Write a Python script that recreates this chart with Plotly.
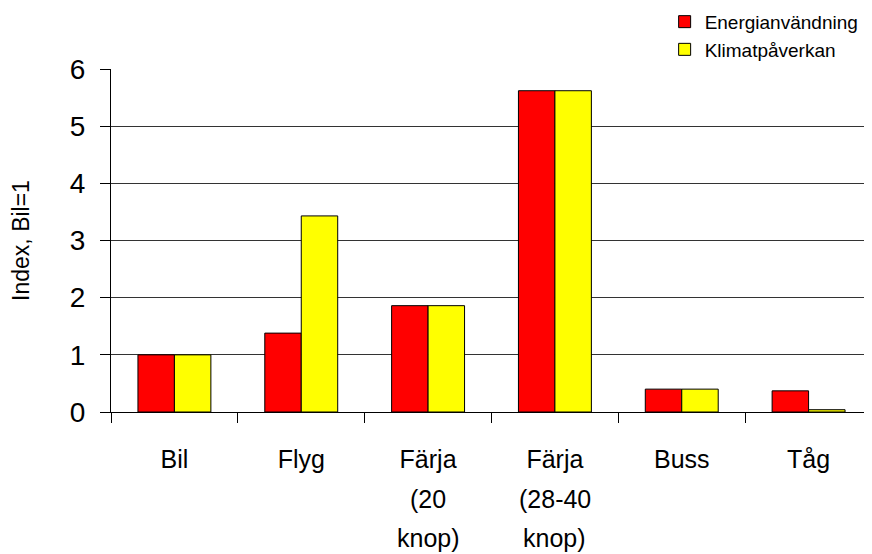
import plotly.graph_objects as go

categories = ["Bil", "Flyg", "Färja (20 knop)", "Färja (28-40 knop)", "Buss", "Tåg"]
label_lines = [["Bil"], ["Flyg"], ["Färja", "(20", "knop)"], ["Färja", "(28-40", "knop)"], ["Buss"], ["Tåg"]]
energi = [1.0, 1.38, 1.86, 5.62, 0.40, 0.37]
klimat = [1.0, 3.43, 1.86, 5.62, 0.40, 0.04]
yticks = [0, 1, 2, 3, 4, 5, 6]

FONT = "Liberation Sans, Arial, sans-serif"

fig = go.Figure()
fig.add_trace(go.Bar(x=categories, y=energi, name="Energianvändning", legendgroup="a",
                     marker=dict(color="#FF0000", line=dict(color="#000000", width=1))))
fig.add_trace(go.Bar(x=categories, y=klimat, name="Klimatpåverkan", legendgroup="b",
                     marker=dict(color="#FFFF00", line=dict(color="#000000", width=1))))

annotations = []
for cat, lines in zip(categories, label_lines):
    for i, line in enumerate(lines[1:], start=1):
        annotations.append(dict(x=cat, xref="x", y=0, yref="paper", text=line, showarrow=False,
                                yanchor="middle", yshift=-48 - 39 * i,
                                font=dict(family=FONT, size=25, color="black")))

fig.update_layout(
    width=864, height=546,
    margin=dict(l=103, r=0, t=61, b=142, autoexpand=False),
    paper_bgcolor="white", plot_bgcolor="white",
    barmode="group", bargap=0.425, bargroupgap=0,
    font=dict(family=FONT, color="black"),
    legend=dict(x=0.7275, y=1.193, xanchor="left", yanchor="top",
                font=dict(family=FONT, size=19), tracegroupgap=0,
                bgcolor="rgba(0,0,0,0)"),
    annotations=annotations,
)
fig.update_xaxes(
    type="category", tickmode="array", tickvals=categories,
    ticktext=[l[0] for l in label_lines],
    tickson="boundaries", ticks="outside", ticklen=10, tickcolor="black",
    showline=True, linecolor="black", linewidth=1, showgrid=False,
    tickfont=dict(family=FONT, size=25, color="black"), ticklabelstandoff=25,
)
fig.update_yaxes(
    range=[0, 6], tickvals=yticks, ticks="outside", ticklen=10, tickcolor="black",
    showline=True, linecolor="black", linewidth=1,
    showgrid=True, gridcolor="#333333", gridwidth=1, zeroline=False,
    tickfont=dict(family=FONT, size=28, color="black"), ticklabelstandoff=9,
    title=dict(text="Index, Bil=1", font=dict(family=FONT, size=23, color="black"), standoff=33),
)

fig.write_html("out.html")
